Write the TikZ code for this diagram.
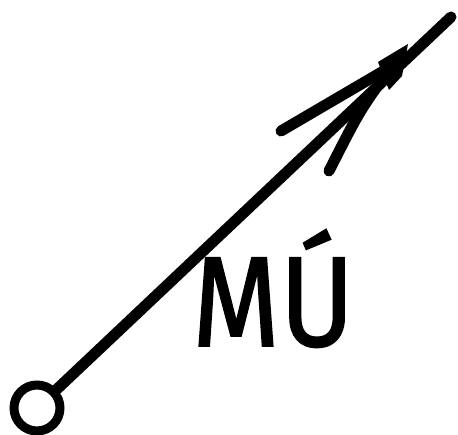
\documentclass[tikz,border=0pt]{standalone}
\usepackage{fontspec}
\newfontfamily\handfont[FakeBold=1.3]{Fira Sans}
\begin{document}
\begin{tikzpicture}[x=1pt,y=-1pt,
  ink/.style={line width=11pt,line cap=round,line join=round},
  ring/.style={circle,draw,line width=9pt,minimum width=44pt,minimum height=46pt,inner sep=0pt},
  lbl/.style={font=\handfont\fontsize{128}{128}\selectfont,inner sep=0pt}]
\useasboundingbox (0,0) rectangle (458,435);
\node[ring] (start) at (37,408) {};
\coordinate (tip) at (451,17);
\coordinate (head) at (392,66);
\coordinate (barbA) at (281,131);
\coordinate (barbB) at (329,171);
\draw[ink] (start) -- (tip);
\draw[ink] (head) -- (barbA);
\draw[ink] (head) .. controls (360,110) .. (barbB);
\fill (378,62) -- (408,44) -- (402,76) -- (389,90) -- cycle;
\node[lbl,anchor=base west,xscale=0.88] (mu) at (192,346) {MÚ};
\end{tikzpicture}
\end{document}
